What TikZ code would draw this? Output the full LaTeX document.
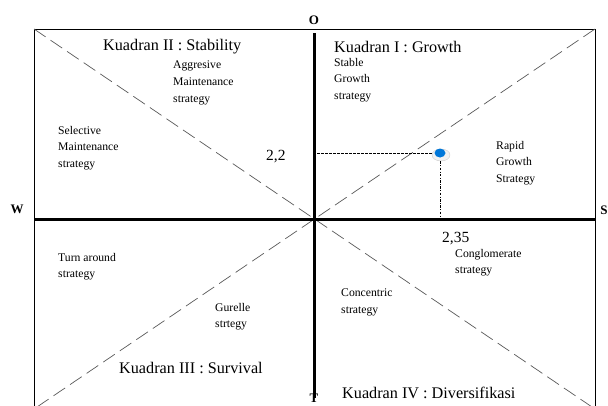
\documentclass[tikz,border=0pt]{standalone}
\usepackage{fontspec}
\setmainfont{Liberation Serif}
\usetikzlibrary{shapes.geometric}
\tikzset{
  quadtitle/.style={font=\fontsize{16.2}{18}\selectfont, anchor=west, inner sep=0pt},
  stratlabel/.style={font=\fontsize{11.7}{16.6}\selectfont, align=left, anchor=north west, inner sep=0pt},
  valuelabel/.style={font=\fontsize{15.5}{18}\selectfont, anchor=west, inner sep=0pt},
  compass/.style={font=\fontsize{13}{15}\selectfont\bfseries, inner sep=0pt},
  diagline/.style={gray!70!black, line width=0.7pt, dash pattern=on 14pt off 6pt},
  guide/.style={line width=0.6pt, dash pattern=on 2.5pt off 1.5pt},
}
\begin{document}
\begin{tikzpicture}[x=1pt, y=-1pt]
            \useasboundingbox (0,0) rectangle (608,405);
            % frame and centre
            \coordinate (nw) at (34,29);
            \coordinate (ne) at (595,29);
            \coordinate (sw) at (34,409);
            \coordinate (se) at (595,409);
            \coordinate (c) at (314,219);
            \coordinate (top) at (314,33);
            \coordinate (bot) at (314,398);
            \coordinate (lft) at (34,219);
            \coordinate (rgt) at (595,219);
            \draw[line width=0.8pt] (sw) -- (nw) -- (ne) -- (se);
            \draw[diagline] (nw) -- (se);
            \draw[diagline] (ne) -- (sw);
            \draw[line width=3pt] (top) -- (bot);
            \draw[line width=3pt] (lft) -- (rgt);
            % compass letters
            \node[compass] (o) at (314,20) {O};
            \node[compass] (w) at (17,209) {W};
            \node[compass] (s) at (604,210) {S};
            \node[compass] (t) at (314,398) {T};
            % position of the firm
            \node[ellipse, fill=gray!10, draw=gray!40, minimum width=18pt, minimum height=12pt, inner sep=0pt] (ring) at (441,155) {};
            \node[ellipse, fill=blue!45!cyan!85!black, minimum width=11pt, minimum height=9pt, inner sep=0pt] (pt) at (440,153) {};
            \draw[guide] (ring.west |- pt) -- (pt -| c);
            \draw[guide, dash pattern=on 2.5pt off 1.5pt on 0.8pt off 1.5pt] (pt |- ring.south) -- (pt |- c);
            \node[valuelabel] (vy) at (266,157) {2,2};
            \node[valuelabel] (vx) at (442,239) {2,35};
            % quadrant titles
            \node[quadtitle] (q1) at (334,47) {Kuadran I : Growth};
            \node[quadtitle] (q2) at (103,47) {Kuadran II : Stability};
            \node[quadtitle] (q3) at (119,368) {Kuadran III : Survival};
            \node[quadtitle] (q4) at (342,393) {Kuadran IV : Diversifikasi};
            % strategies
            \node[stratlabel] (aggr) at (173,61) {Aggresive\\Maintenance\\strategy};
            \node[stratlabel] (sel) at (58,126) {Selective\\Maintenance\\strategy};
            \node[stratlabel] (stab) at (334,58) {Stable\\Growth\\strategy};
            \node[stratlabel] (rapid) at (496,141) {Rapid\\Growth\\Strategy};
            \node[stratlabel] (cong) at (455,249) {Conglomerate\\strategy};
            \node[stratlabel] (conc) at (341,289) {Concentric\\strategy};
            \node[stratlabel] (turn) at (58,253) {Turn around\\strategy};
            \node[stratlabel] (gur) at (215,303) {Gurelle\\strtegy};
        \end{tikzpicture}
\end{document}
